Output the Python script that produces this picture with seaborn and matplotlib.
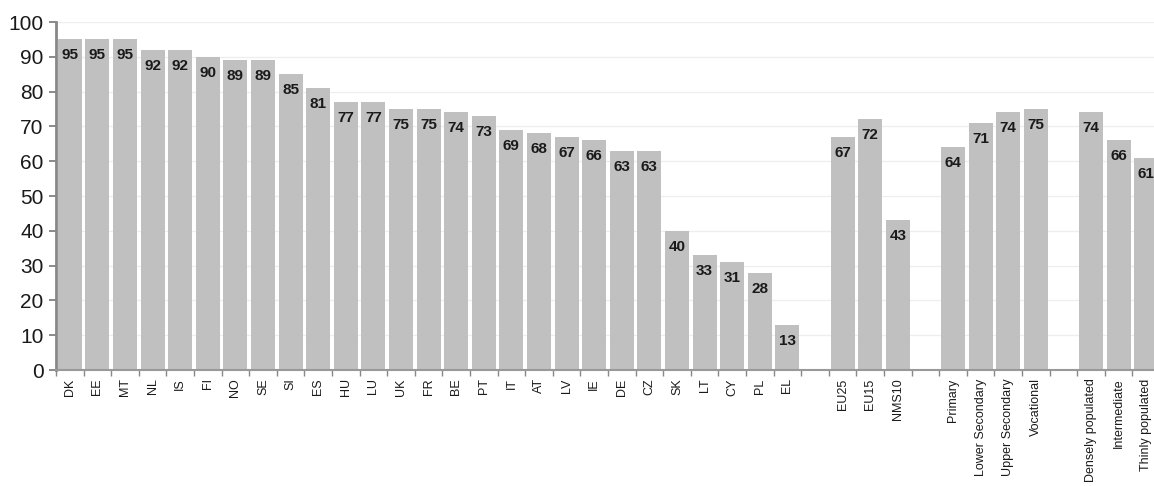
import numpy as np
import pandas as pd
import matplotlib
matplotlib.use('Agg')
import matplotlib.pyplot as plt
import seaborn as sns

# --- Data ---
countries = ['DK', 'EE', 'MT', 'NL', 'IS', 'FI', 'NO', 'SE', 'SI', 'ES', 'HU', 'LU', 'UK', 'FR',
             'BE', 'PT', 'IT', 'AT', 'LV', 'IE', 'DE', 'CZ', 'SK', 'LT', 'CY', 'PL', 'EL']
country_vals = [95, 95, 95, 92, 92, 90, 89, 89, 85, 81, 77, 77, 75, 75,
                74, 73, 69, 68, 67, 66, 63, 63, 40, 33, 31, 28, 13]

aggregates = ['EU25', 'EU15', 'NMS10']
aggregate_vals = [67, 72, 43]

education = ['Primary', 'Lower Secondary', 'Upper Secondary', 'Vocational']
education_vals = [64, 71, 74, 75]

urbanisation = ['Densely populated', 'Intermediate', 'Thinly populated']
urbanisation_vals = [74, 66, 61]

# gaps between the groups are empty categories
order = countries + [' '] + aggregates + ['  '] + education + ['   '] + urbanisation
df = pd.DataFrame({
    'cat': countries + aggregates + education + urbanisation,
    'value': country_vals + aggregate_vals + education_vals + urbanisation_vals,
})

plt.rcParams['font.family'] = ['Liberation Sans', 'DejaVu Sans']

fig = plt.figure(figsize=(11.54, 4.86), dpi=100)
# axes runs a little past the right edge, like the cropped original
ax = fig.add_axes([56 / 1154, 116 / 486, 1104 / 1154, 348 / 486])

sns.barplot(data=df, x='cat', y='value', order=order, color='#C0C0C0',
            saturation=1, width=0.87, edgecolor='none', ax=ax)

# value labels inside the top of each bar
for c in ax.containers:
    for bar in c:
        h = bar.get_height()
        if np.isnan(h):
            continue
        ax.annotate(f'{h:.0f}', (bar.get_x() + bar.get_width() / 2, h),
                    xytext=(0, -11.5), textcoords='offset points',
                    ha='center', va='center', fontsize=11, fontweight='bold',
                    color='#1a1a1a')

ax.set_xlim(-0.5, len(order) - 0.5)
ax.set_ylim(0, 100)
ax.set_yticks(range(0, 101, 10))
ax.tick_params(axis='y', labelsize=15, length=5, width=1.2, color='#777777',
               labelcolor='#1a1a1a', pad=4)

ax.set_xticks(range(len(order)))
ax.set_xticklabels(order, rotation=90, fontsize=9, color='#1a1a1a', va='top')
ax.tick_params(axis='x', which='major', length=0, pad=6)
ax.set_xticks(np.arange(-0.5, len(order), 1), minor=True)
ax.tick_params(axis='x', which='minor', length=4, width=1, color='#888888')

ax.set_xlabel('')
ax.set_ylabel('')
ax.grid(axis='y', color='#EEEEEE', lw=0.9)
ax.set_axisbelow(True)

for s in ['top', 'right']:
    ax.spines[s].set_visible(False)
ax.spines['left'].set_color('#888888')
ax.spines['left'].set_linewidth(2)
ax.spines['bottom'].set_color('#999999')
ax.spines['bottom'].set_linewidth(1.5)

fig.savefig('out.png', dpi=100)
